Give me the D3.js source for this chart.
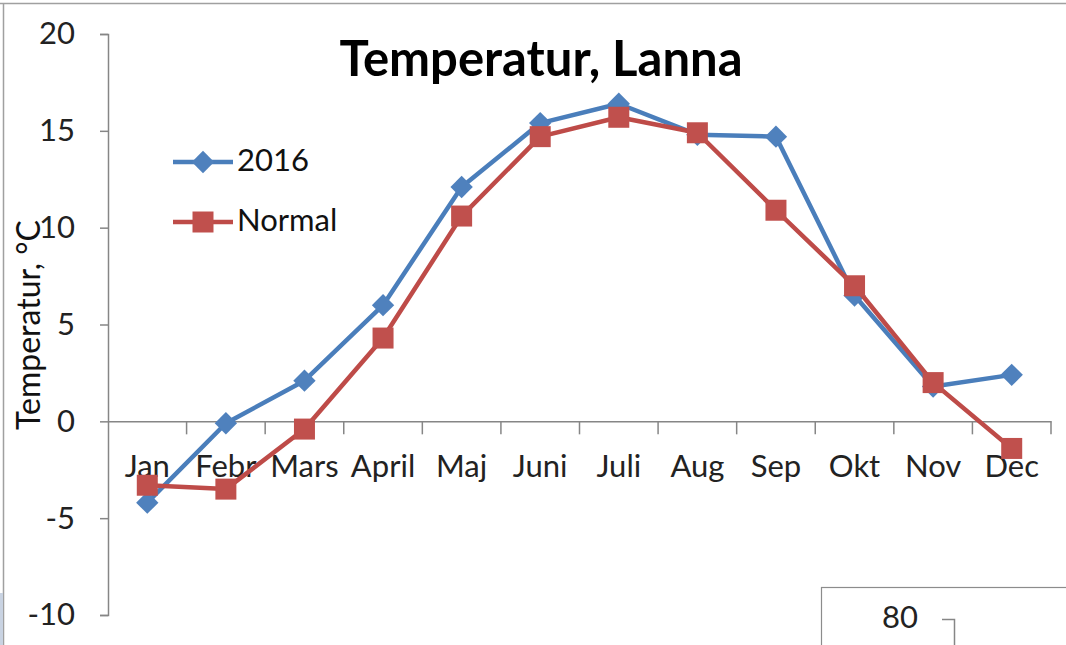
<!DOCTYPE html>
<html>
<head>
<meta charset="utf-8">
<script src="https://cdn.jsdelivr.net/npm/d3@7"></script>
<style>
  body { margin: 0; background: #fff; }
  svg { display: block; font-family: Lato, "Open Sans", sans-serif; }
</style>
</head>
<body>
<script>
// data
var months = ["Jan", "Febr", "Mars", "April", "Maj", "Juni", "Juli", "Aug", "Sep", "Okt", "Nov", "Dec"];
var temp2016 = [-4.2, -0.1, 2.1, 6.0, 12.1, 15.4, 16.4, 14.8, 14.7, 6.5, 1.8, 2.4];
var tempNormal = [-3.3, -3.5, -0.4, 4.3, 10.6, 14.7, 15.7, 14.9, 10.9, 7.0, 2.0, -1.4];
var yTicks = [-10, -5, 0, 5, 10, 15, 20];
var seriesNames = ["2016", "Normal"];
var nextChartTicks = [80];

var w = 1066, h = 645;
var blue = "#4A7EBB", blueFill = "#4F81BD";
var red = "#BE4B48", redFill = "#C0504D";
var axisCol = "#868686";

var svg = d3.select("body").append("svg")
    .attr("width", w)
    .attr("height", h);

// scales
var x = d3.scaleBand().domain(months).range([108, 1051]);
var y = d3.scaleLinear().domain([-10, 20]).range([615, 34]);
var cx = function(d, i) { return x(months[i]) + x.bandwidth() / 2; };

// outer frame of the sheet
svg.append("line").attr("x1", 0).attr("x2", w).attr("y1", 3.5).attr("y2", 3.5)
   .attr("stroke", "#a0a0a0").attr("stroke-width", 1.5);
svg.append("line").attr("x1", 3.5).attr("x2", 3.5).attr("y1", 3).attr("y2", h)
   .attr("stroke", "#a0a0a0").attr("stroke-width", 1.5);
svg.append("rect").attr("x", 0).attr("y", 593).attr("width", 3).attr("height", 52)
   .attr("fill", "#c9d3e2");

// y axis (plain hyphen for negatives, like the original)
var yAxis = svg.append("g")
    .attr("transform", "translate(108,0)")
    .call(d3.axisLeft(y).tickValues(yTicks).tickSize(8).tickPadding(25)
        .tickFormat(function(d) { return String(d); }));
yAxis.selectAll("text").attr("font-size", 31).attr("fill", "#222")
    .attr("font-family", "Lato, sans-serif");

// x axis at zero: labels in the middle of each band, ticks at band edges
var xAxis = svg.append("g")
    .attr("transform", "translate(0," + y(0) + ")")
    .call(d3.axisBottom(x).tickSize(0).tickPadding(34));
xAxis.selectAll("text").attr("font-size", 31).attr("fill", "#222")
    .attr("font-family", "Lato, sans-serif");
xAxis.selectAll(".boundary")
    .data(months)
    .enter()
    .append("line")
    .attr("class", "boundary")
    .attr("x1", function(d) { return x(d) + x.bandwidth(); })
    .attr("x2", function(d) { return x(d) + x.bandwidth(); })
    .attr("y1", 0)
    .attr("y2", 13);

svg.selectAll(".domain, .tick line, .boundary")
    .attr("stroke", axisCol).attr("stroke-width", 1.5);

// y axis title
svg.append("text")
    .attr("transform", "translate(40,325) rotate(-90)")
    .attr("text-anchor", "middle")
    .attr("font-size", 32)
    .attr("fill", "#111")
    .text("Temperatur, °C");

// chart title
svg.append("text")
    .attr("x", 541)
    .attr("y", 76)
    .attr("text-anchor", "middle")
    .attr("font-size", 49)
    .attr("font-weight", "bold")
    .attr("fill", "#000")
    .text("Temperatur, Lanna");

var line = d3.line()
    .x(cx)
    .y(function(d) { return y(d); });

var diamond = d3.symbol().type(d3.symbolSquare).size(250);
var square = d3.symbol().type(d3.symbolSquare).size(441);

// 2016 series
svg.append("path")
    .datum(temp2016)
    .attr("d", line)
    .attr("fill", "none")
    .attr("stroke", blue)
    .attr("stroke-width", 4.5)
    .attr("stroke-linejoin", "round");
svg.selectAll(".m2016")
    .data(temp2016)
    .enter()
    .append("path")
    .attr("class", "m2016")
    .attr("d", diamond)
    .attr("transform", function(d, i) {
        return "translate(" + cx(d, i) + "," + y(d) + ") rotate(45)";
    })
    .attr("fill", blueFill);

// normal series
svg.append("path")
    .datum(tempNormal)
    .attr("d", line)
    .attr("fill", "none")
    .attr("stroke", red)
    .attr("stroke-width", 4.5)
    .attr("stroke-linejoin", "round");
svg.selectAll(".mNormal")
    .data(tempNormal)
    .enter()
    .append("path")
    .attr("class", "mNormal")
    .attr("d", square)
    .attr("transform", function(d, i) {
        return "translate(" + cx(d, i) + "," + y(d) + ")";
    })
    .attr("fill", redFill);

// legend
var legend = svg.append("g");
var legRows = legend.selectAll("g")
    .data(seriesNames)
    .enter()
    .append("g")
    .attr("transform", function(d, i) { return "translate(0," + (162 + i * 60) + ")"; });
legRows.append("line")
    .attr("x1", 173).attr("x2", 233)
    .attr("stroke", function(d, i) { return i == 0 ? blue : red; })
    .attr("stroke-width", 4.5);
legRows.append("path")
    .attr("d", function(d, i) { return i == 0 ? diamond() : square(); })
    .attr("transform", function(d, i) {
        return "translate(203,0)" + (i == 0 ? " rotate(45)" : "");
    })
    .attr("fill", function(d, i) { return i == 0 ? blueFill : redFill; });
legRows.append("text")
    .attr("x", 237)
    .attr("y", 9)
    .attr("font-size", 31)
    .attr("fill", "#111")
    .text(function(d) { return d; });

// edge of the next chart peeking in at the bottom right
svg.append("rect")
    .attr("x", 821.5).attr("y", 587.5)
    .attr("width", 300).attr("height", 100)
    .attr("fill", "#fff")
    .attr("stroke", "#8c8c8c").attr("stroke-width", 1.2);
svg.selectAll(".nextTick")
    .data(nextChartTicks)
    .enter()
    .append("text")
    .attr("class", "nextTick")
    .attr("x", 918)
    .attr("y", 628)
    .attr("text-anchor", "end")
    .attr("font-size", 31)
    .attr("fill", "#222")
    .text(function(d) { return d; });
svg.append("path")
    .attr("d", "M942,619.5H954.5V645")
    .attr("fill", "none")
    .attr("stroke", axisCol)
    .attr("stroke-width", 1.5);
</script>
</body>
</html>
